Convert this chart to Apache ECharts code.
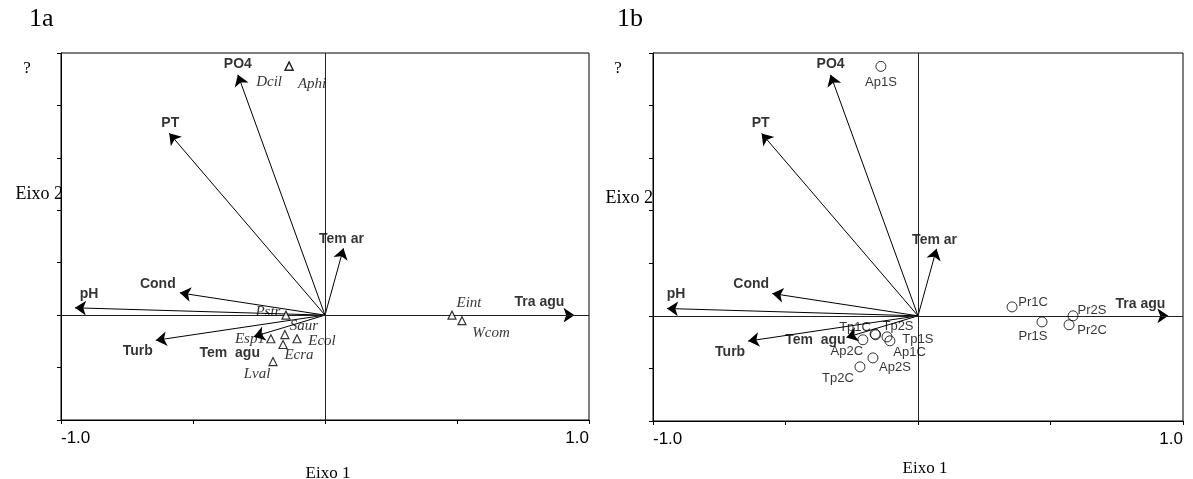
<!DOCTYPE html>
<html>
<head>
<meta charset="utf-8">
<script src="https://cdn.jsdelivr.net/npm/echarts@6/dist/echarts.min.js"></script>
<style>
  html, body { margin: 0; padding: 0; background: #fff; }
  #chart { width: 1193px; height: 479px; }
</style>
</head>
<body>
<div id="chart"></div>
<script>
// variaveis ambientais (setas), iguais nos dois paineis
var envNames = ['PO4', 'PT', 'Tem ar', 'Tra agu', 'pH', 'Cond', 'Turb', 'Tem  agu'];
var envX = [-0.33, -0.59, 0.07, 0.945, -0.947, -0.55, -0.641, -0.27];
var envY = [0.917, 0.694, 0.255, 0, 0.028, 0.085, -0.096, -0.082];

// 1a - especies
var spNames = ['Dcil', 'Aphi', 'Pstr', 'Saur', 'Esp1', 'Ecol', 'Ecra', 'Lval', 'Eint', 'Wcom'];
var spX = [-0.136, -0.136, -0.148, -0.152, -0.205, -0.106, -0.159, -0.197, 0.481, 0.519];
var spY = [0.95, 0.95, 0, -0.074, -0.09, -0.09, -0.112, -0.177, 0, -0.021];

// 1b - amostras
var siteNames = ['Ap1S', 'Pr1C', 'Pr1S', 'Pr2S', 'Pr2C', 'Tp1C', 'Ap1C', 'Tp2S', 'Tp1S', 'Ap2C', 'Ap2S', 'Tp2C'];
var siteX = [-0.14, 0.355, 0.468, 0.585, 0.57, -0.162, -0.16, -0.117, -0.106, -0.208, -0.17, -0.219];
var siteY = [0.949, 0.034, -0.023, 0, -0.034, -0.069, -0.072, -0.08, -0.095, -0.091, -0.16, -0.194];

// eixos
var xMin = -1, xMax = 1, xStep = 0.5;
var yMin = -0.4, yMax = 1.0, yStep = 0.2;

// deslocamento dos rotulos (px)
var envOffA = {'PO4': [0, -11], 'PT': [1, -10], 'Tem ar': [-2, -9], 'Tra agu': [-35, -13],
  'pH': [14, -14], 'Cond': [-22, -9], 'Turb': [-18, 11], 'Tem  agu': [-24, 17]};
var envOffB = {'PO4': [0, -11], 'PT': [-1, -10], 'Tem ar': [-2, -9], 'Tra agu': [-28, -12],
  'pH': [9, -14], 'Cond': [-21, -9], 'Turb': [-18, 11], 'Tem  agu': [-31, 3]};
var spOff = {'Dcil': [-20, 16], 'Aphi': [23, 18], 'Pstr': [-18, -3], 'Saur': [19, -8],
  'Esp1': [-21, 0], 'Ecol': [25, 2], 'Ecra': [16, 11], 'Lval': [-16, 13], 'Eint': [17, -12], 'Wcom': [29, 12]};
var siteOff = {'Ap1S': [0, 16], 'Pr1C': [21, -4], 'Pr1S': [-9, 15], 'Pr2S': [19, -5], 'Pr2C': [23, 6],
  'Tp1C': [-20, -7], 'Ap1C': [34, 18], 'Tp2S': [11, -10], 'Tp1S': [28, -1], 'Ap2C': [-16, 12],
  'Ap2S': [22, 10], 'Tp2C': [-22, 12]};

var sans = "'Liberation Sans', Arial, sans-serif";
var serif = "'Liberation Serif', 'Times New Roman', serif";

var chart = echarts.init(document.getElementById('chart'));

function xAxisOf(i) {
  return {
    gridIndex: i, type: 'value', min: xMin, max: xMax, interval: xStep,
    axisLine: { onZero: false, lineStyle: { color: '#000', width: 1 } },
    axisTick: { length: 4, lineStyle: { color: '#000' } },
    splitLine: { show: false },
    axisLabel: {
      margin: 10, color: '#000', fontFamily: sans, fontSize: 17,
      alignMinLabel: 'left', alignMaxLabel: 'right',
      formatter: function (v) { return v === xMin || v === xMax ? v.toFixed(1) : ''; }
    }
  };
}
function yAxisOf(i) {
  return {
    gridIndex: i, type: 'value', min: yMin, max: yMax, interval: yStep,
    axisLine: { onZero: false, lineStyle: { color: '#000', width: 1 } },
    axisTick: { length: 4, lineStyle: { color: '#000' } },
    splitLine: { show: false },
    axisLabel: { show: false }
  };
}

function arrows(i) {
  return {
    type: 'lines', coordinateSystem: 'cartesian2d', xAxisIndex: i, yAxisIndex: i,
    symbol: ['none', 'arrow'], symbolSize: [0, 11],
    lineStyle: { color: '#000', width: 1, opacity: 1 },
    data: envNames.map(function (n, k) { return { coords: [[0, 0], [envX[k], envY[k]]] }; }),
    z: 3
  };
}
function envLabels(i, off) {
  return {
    type: 'scatter', xAxisIndex: i, yAxisIndex: i, symbolSize: 0,
    label: { show: true, position: 'inside', formatter: '{b}', color: '#000',
      fontFamily: sans, fontWeight: 'bold', fontSize: 14 },
    data: envNames.map(function (n, k) {
      return { name: n, value: [envX[k], envY[k]], label: { offset: off[n] } };
    }),
    markLine: {
      silent: true, symbol: ['none', 'none'], label: { show: false },
      lineStyle: { color: '#222', width: 1, type: 'solid' },
      data: [{ xAxis: 0 }, { yAxis: 0 }]
    },
    z: 4
  };
}

var option = {
  animation: false,
  backgroundColor: '#fff',
  grid: [
    { left: 61, top: 53, width: 528, height: 367, show: true, borderColor: '#000', borderWidth: 1 },
    { left: 653, top: 53, width: 530, height: 368, show: true, borderColor: '#000', borderWidth: 1 }
  ],
  xAxis: [xAxisOf(0), xAxisOf(1)],
  yAxis: [yAxisOf(0), yAxisOf(1)],
  graphic: [
    { type: 'text', left: 29, top: 6, style: { text: '1a', font: '26px ' + serif, fill: '#000' } },
    { type: 'text', left: 617, top: 6, style: { text: '1b', font: '26px ' + serif, fill: '#000' } },
    { type: 'text', x: 27, y: 69, style: { text: '?', font: '17px ' + serif, fill: '#000', align: 'center', verticalAlign: 'middle' } },
    { type: 'text', x: 618, y: 69, style: { text: '?', font: '17px ' + serif, fill: '#000', align: 'center', verticalAlign: 'middle' } },
    { type: 'text', x: 63, y: 194, style: { text: 'Eixo 2', font: '18px ' + serif, fill: '#000', align: 'right', verticalAlign: 'middle' } },
    { type: 'text', x: 653, y: 198, style: { text: 'Eixo 2', font: '18px ' + serif, fill: '#000', align: 'right', verticalAlign: 'middle' } },
    { type: 'text', x: 328, y: 474, style: { text: 'Eixo 1', font: '17px ' + serif, fill: '#000', align: 'center', verticalAlign: 'middle' } },
    { type: 'text', x: 925, y: 469, style: { text: 'Eixo 1', font: '17px ' + serif, fill: '#000', align: 'center', verticalAlign: 'middle' } }
  ],
  series: [
    arrows(0),
    envLabels(0, envOffA),
    {
      type: 'scatter', xAxisIndex: 0, yAxisIndex: 0, symbol: 'triangle', symbolSize: 8,
      itemStyle: { color: '#fff', borderColor: '#000', borderWidth: 1.2 },
      label: { show: true, position: 'inside', formatter: '{b}', color: '#000',
        fontFamily: serif, fontStyle: 'italic', fontSize: 15 },
      data: spNames.map(function (n, k) {
        return { name: n, value: [spX[k], spY[k]], label: { offset: spOff[n] } };
      }),
      z: 5
    },
    arrows(1),
    envLabels(1, envOffB),
    {
      type: 'scatter', xAxisIndex: 1, yAxisIndex: 1, symbol: 'circle', symbolSize: 10,
      itemStyle: { color: 'rgba(255,255,255,0)', borderColor: '#000', borderWidth: 1 },
      label: { show: true, position: 'inside', formatter: '{b}', color: '#000',
        fontFamily: sans, fontSize: 13 },
      data: siteNames.map(function (n, k) {
        return { name: n, value: [siteX[k], siteY[k]], label: { offset: siteOff[n] } };
      }),
      z: 5
    }
  ]
};

chart.setOption(option);
</script>
</body>
</html>
